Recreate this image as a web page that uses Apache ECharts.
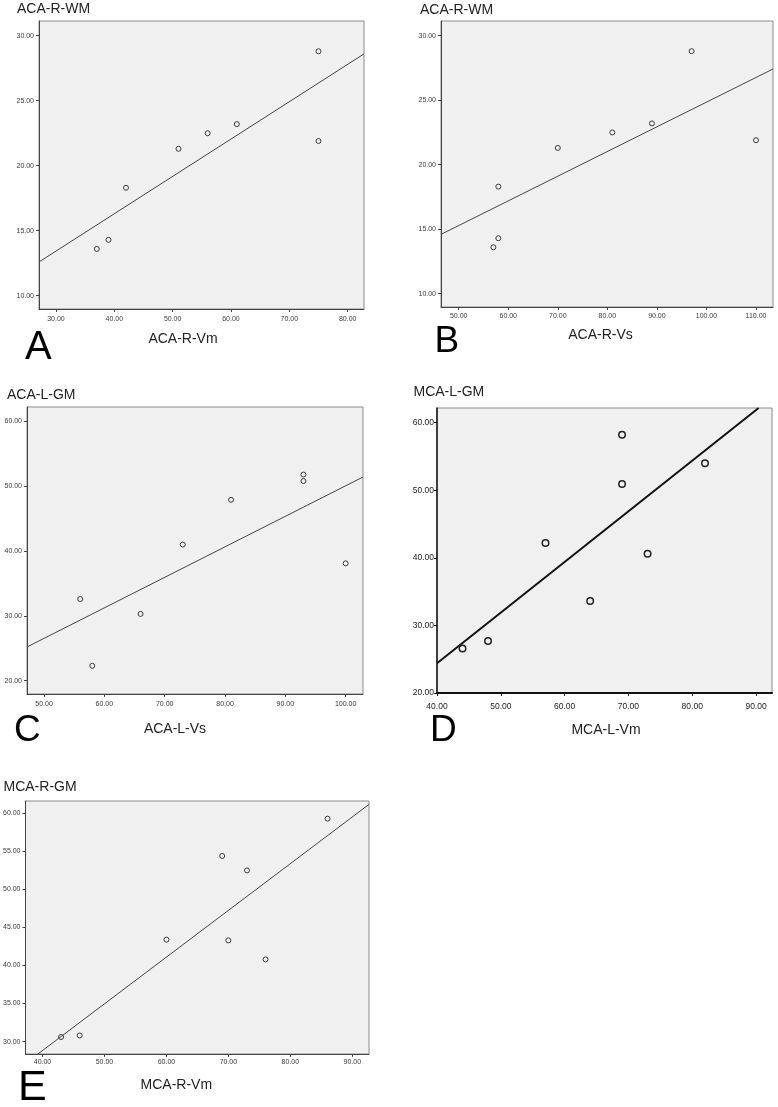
<!DOCTYPE html>
<html>
<head>
<meta charset="utf-8">
<style>
html,body{margin:0;padding:0;background:#fff;}
#chart{width:778px;height:1107px;}
</style>
<script src="https://cdn.jsdelivr.net/npm/echarts@6/dist/echarts.min.js"></script>
</head>
<body>
<div id="chart"></div>
<script>
// ---------- DATA ----------
const panelLetters = ['A', 'B', 'C', 'D', 'E'];
const yTitles = ['ACA-R-WM', 'ACA-R-WM', 'ACA-L-GM', 'MCA-L-GM', 'MCA-R-GM'];
const xTitles = ['ACA-R-Vm', 'ACA-R-Vs', 'ACA-L-Vs', 'MCA-L-Vm', 'MCA-R-Vm'];

const aX = [37, 39, 42, 51, 56, 61, 75, 75];
const aY = [13.6, 14.3, 18.3, 21.3, 22.5, 23.2, 28.8, 21.9];
const bX = [57, 58, 58, 70, 81, 89, 97, 110];
const bY = [13.6, 14.3, 18.3, 21.3, 22.5, 23.2, 28.8, 21.9];
const cX = [56, 58, 66, 73, 81, 93, 93, 100];
const cY = [32.6, 22.3, 30.3, 41.0, 47.9, 51.8, 50.8, 38.1];
const dX = [44, 48, 57, 64, 69, 69, 73, 82];
const dY = [26.6, 27.7, 42.2, 33.6, 58.2, 50.9, 40.6, 54.0];
const eX = [43, 46, 60, 69, 70, 73, 76, 86];
const eY = [30.6, 30.8, 43.4, 54.4, 43.3, 52.5, 40.8, 59.3];

// fit line end points (x, y)
const aFitX = [27.1, 82.8];   const aFitY = [12.6, 28.6];
const bFitX = [46.43, 113.43]; const bFitY = [14.6, 27.42];
const cFitX = [47.18, 102.87]; const cFitY = [25.2, 51.42];
const dFitX = [40, 90.4];     const dFitY = [24.4, 62.16];
const eFitX = [39.26, 92.69]; const eFitY = [28.37, 61.18];

// axis ranges
const aXRange = [27.09, 82.8];  const aYRange = [8.98, 31.13];
const bXRange = [46.43, 113.43]; const bYRange = [8.97, 31.14];
const cXRange = [47.18, 102.87]; const cYRange = [17.95, 62.22];
const dXRange = [40, 92.5];     const dYRange = [20, 62.16];
const eXRange = [37.26, 92.69]; const eYRange = [28.37, 61.62];

// tick labels
const aXTicks = [30, 40, 50, 60, 70, 80];
const aYTicks = [10, 15, 20, 25, 30];
const bXTicks = [50, 60, 70, 80, 90, 100, 110];
const bYTicks = [10, 15, 20, 25, 30];
const cXTicks = [50, 60, 70, 80, 90, 100];
const cYTicks = [20, 30, 40, 50, 60];
const dXTicks = [40, 50, 60, 70, 80, 90];
const dYTicks = [20, 30, 40, 50, 60];
const eXTicks = [40, 50, 60, 70, 80, 90];
const eYTicks = [30, 35, 40, 45, 50, 55, 60];

// ---------- LAYOUT / STYLE ----------
const FONT = '"Liberation Sans", Arial, sans-serif';
const panels = [
  {xs: aX, ys: aY, fx: aFitX, fy: aFitY, xr: aXRange, yr: aYRange, xt: aXTicks, yt: aYTicks,
   grid: {left: 39, top: 21, width: 325, height: 288},
   title: [17, 9.5], xname: [183, 339], letter: [25, 347.5, 40], xm: 7, ym: 5, lab: 7, bold: false},
  {xs: bX, ys: bY, fx: bFitX, fy: bFitY, xr: bXRange, yr: bYRange, xt: bXTicks, yt: bYTicks,
   grid: {left: 441, top: 21, width: 332, height: 286},
   title: [420, 10], xname: [600.5, 335], letter: [434.5, 341.5, 37], xm: 6, ym: 5, lab: 7, bold: false},
  {xs: cX, ys: cY, fx: cFitX, fy: cFitY, xr: cXRange, yr: cYRange, xt: cXTicks, yt: cYTicks,
   grid: {left: 27, top: 407, width: 336, height: 287},
   title: [7, 395.3], xname: [175, 729.3], letter: [14, 730.5, 37], xm: 6.5, ym: 5, lab: 7, bold: false},
  {xs: dX, ys: dY, fx: dFitX, fy: dFitY, xr: dXRange, yr: dYRange, xt: dXTicks, yt: dYTicks,
   grid: {left: 437, top: 408, width: 335, height: 285},
   title: [413.5, 392], xname: [606, 730], letter: [430, 730.3, 37], xm: 9, ym: 3, lab: 8.5, bold: true},
  {xs: eX, ys: eY, fx: eFitX, fy: eFitY, xr: eXRange, yr: eYRange, xt: eXTicks, yt: eYTicks,
   grid: {left: 25, top: 801, width: 344, height: 253},
   title: [3.5, 786.7], xname: [176.3, 1085], letter: [18, 1088, 43], xm: 4.5, ym: 5, lab: 7, bold: false}
];

const grids = [], xAxes = [], yAxes = [], series = [], graphics = [];
panels.forEach((p, i) => {
  grids.push(Object.assign({
    show: true, backgroundColor: '#f0f0f0', borderColor: '#8a8a8a', borderWidth: 1,
    containLabel: false
  }, p.grid));
  const axisColor = p.bold ? '#111' : '#444';
  const lab = {
    fontSize: p.lab, fontFamily: FONT, color: p.bold ? '#222' : '#3a3a3a',
    fontWeight: 'normal',
    formatter: v => Number(v).toFixed(2)
  };
  xAxes.push({
    type: 'value', gridIndex: i, min: p.xr[0], max: p.xr[1],
    axisLine: {show: true, onZero: false, lineStyle: {color: axisColor, width: p.bold ? 2 : 1}},
    axisTick: {show: true, length: 3, inside: false, customValues: p.xt, lineStyle: {color: axisColor}},
    axisLabel: Object.assign({margin: p.xm, customValues: p.xt, showMinLabel: true, showMaxLabel: true}, lab),
    splitLine: {show: false}
  });
  yAxes.push({
    type: 'value', gridIndex: i, min: p.yr[0], max: p.yr[1],
    axisLine: {show: true, onZero: false, lineStyle: {color: axisColor, width: p.bold ? 1.5 : 1}},
    axisTick: {show: true, length: 3, inside: false, customValues: p.yt, lineStyle: {color: axisColor}},
    axisLabel: Object.assign({margin: p.ym, customValues: p.yt, showMinLabel: true, showMaxLabel: true}, lab),
    splitLine: {show: false}
  });
  series.push({
    type: 'scatter', xAxisIndex: i, yAxisIndex: i,
    data: p.xs.map((x, k) => [x, p.ys[k]]),
    symbol: 'circle', symbolSize: p.bold ? 6.5 : 5,
    itemStyle: {color: 'rgba(0,0,0,0)', borderColor: p.bold ? '#222' : '#3a3a3a', borderWidth: p.bold ? 1.5 : 1, opacity: 1},
    z: 3
  });
  series.push({
    type: 'line', xAxisIndex: i, yAxisIndex: i,
    data: p.fx.map((x, k) => [x, p.fy[k]]),
    showSymbol: false, symbol: 'none', clip: true,
    lineStyle: {color: p.bold ? '#111' : '#444', width: p.bold ? 2 : 1},
    z: 2
  });
  graphics.push({
    type: 'text', x: p.title[0], y: p.title[1],
    style: {text: yTitles[i], font: '14px ' + FONT, fill: '#222', align: 'left', verticalAlign: 'middle'}
  });
  graphics.push({
    type: 'text', x: p.xname[0], y: p.xname[1],
    style: {text: xTitles[i], font: '14px ' + FONT, fill: '#222', align: 'center', verticalAlign: 'middle'}
  });
  graphics.push({
    type: 'text', x: p.letter[0], y: p.letter[1],
    style: {text: panelLetters[i], font: p.letter[2] + 'px ' + FONT, fill: '#000', align: 'left', verticalAlign: 'middle'}
  });
});

const chart = echarts.init(document.getElementById('chart'), null, {renderer: 'canvas'});
chart.setOption({
  animation: false,
  backgroundColor: '#ffffff',
  grid: grids,
  xAxis: xAxes,
  yAxis: yAxes,
  series: series,
  graphic: {elements: graphics}
});
</script>
</body>
</html>
